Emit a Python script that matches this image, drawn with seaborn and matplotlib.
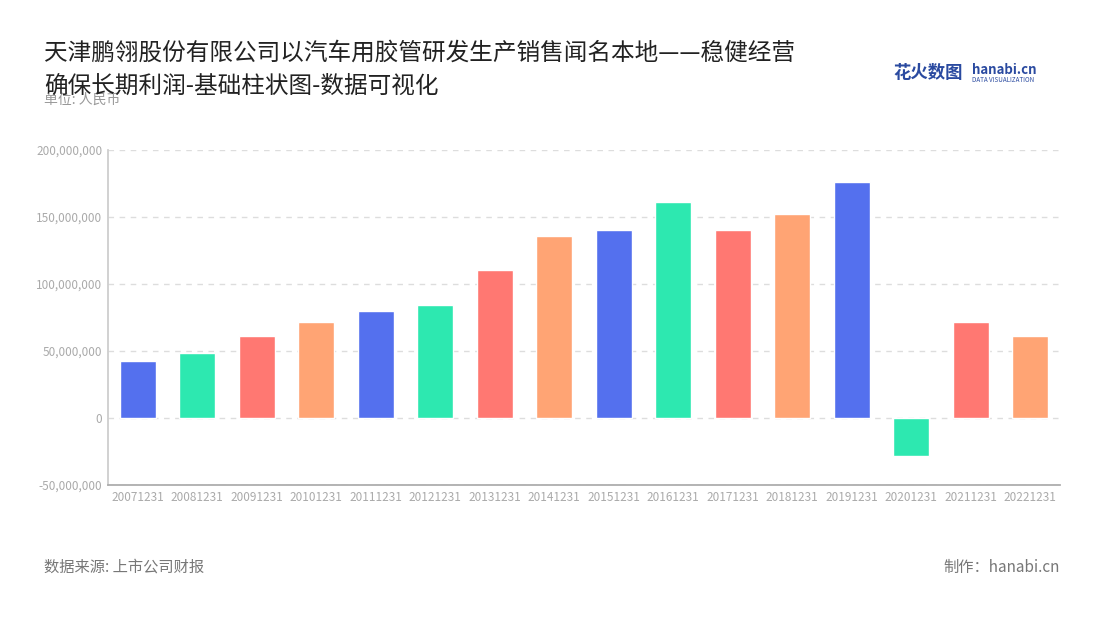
import matplotlib
matplotlib.use("Agg")
import matplotlib.pyplot as plt
import seaborn as sns
import pandas as pd
from matplotlib.ticker import FuncFormatter

years = ["20071231", "20081231", "20091231", "20101231", "20111231", "20121231",
         "20131231", "20141231", "20151231", "20161231", "20171231", "20181231",
         "20191231", "20201231", "20211231", "20221231"]
profit = [42.5e6, 48.5e6, 61e6, 72e6, 80e6, 84e6, 110.5e6, 136e6, 140.5e6, 161e6,
          140.5e6, 152e6, 176e6, -28.5e6, 71.5e6, 61e6]
palette = ["#5470ee", "#2de8b0", "#ff7872", "#ffa474"]

sns.set_theme(style="white")
plt.rcParams["font.family"] = ["Noto Sans CJK SC", "DejaVu Sans"]

df = pd.DataFrame({"year": years, "profit": profit})
colors = [palette[i % 4] for i in range(len(years))]

fig = plt.figure(figsize=(11, 6.2), dpi=100)
ax = fig.add_axes([108 / 1100, 1 - 485 / 620, (1060 - 108) / 1100, (485 - 150) / 620])
sns.barplot(data=df, x="year", y="profit", hue="year", palette=colors,
            legend=False, width=0.6, ax=ax, saturation=1)

ax.set_ylim(-50e6, 200e6)
ax.set_yticks([-50e6, 0, 50e6, 100e6, 150e6, 200e6])
ax.yaxis.set_major_formatter(FuncFormatter(lambda v, p: f"{int(v):,}"))
ax.grid(axis="y", color="#dddddd", linestyle=(0, (4, 4)), linewidth=1)
ax.set_axisbelow(True)
for s in ["top", "right"]:
    ax.spines[s].set_visible(False)
ax.spines["left"].set_color("#cccccc")
ax.spines["bottom"].set_color("#aaaaaa")
ax.tick_params(axis="both", labelsize=8.5, colors="#aaaaaa", length=0, pad=4)
ax.set_xlabel("")
ax.set_ylabel("")

fig.text(44 / 1100, 1 - 53 / 620, "天津鹏翎股份有限公司以汽车用胶管研发生产销售闻名本地——稳健经营",
         fontsize=17, color="#222222", va="center")
fig.text(44 / 1100, 1 - 100 / 620, "单位: 人民币", fontsize=10, color="#999999", va="center")
fig.text(44 / 1100, 1 - 86 / 620, "确保长期利润-基础柱状图-数据可视化",
         fontsize=17, color="#222222", va="center")
fig.text(893 / 1100, 1 - 73 / 620, "花火数图", fontsize=12.5, color="#2a4aa0",
         fontweight="bold", va="center")
fig.text(972 / 1100, 1 - 70 / 620, "hanabi.cn", fontsize=9.5, color="#2a4aa0",
         fontweight="bold", va="center")
fig.text(972 / 1100, 1 - 80 / 620, "DATA VISUALIZATION", fontsize=4.5, color="#2a4aa0", va="center")
fig.text(44 / 1100, 1 - 567 / 620, "数据来源: 上市公司财报", fontsize=11, color="#777777", va="center")
fig.text(1060 / 1100, 1 - 567 / 620, "制作：hanabi.cn", fontsize=11, color="#777777",
         va="center", ha="right")

fig.savefig("out.png", dpi=100)
